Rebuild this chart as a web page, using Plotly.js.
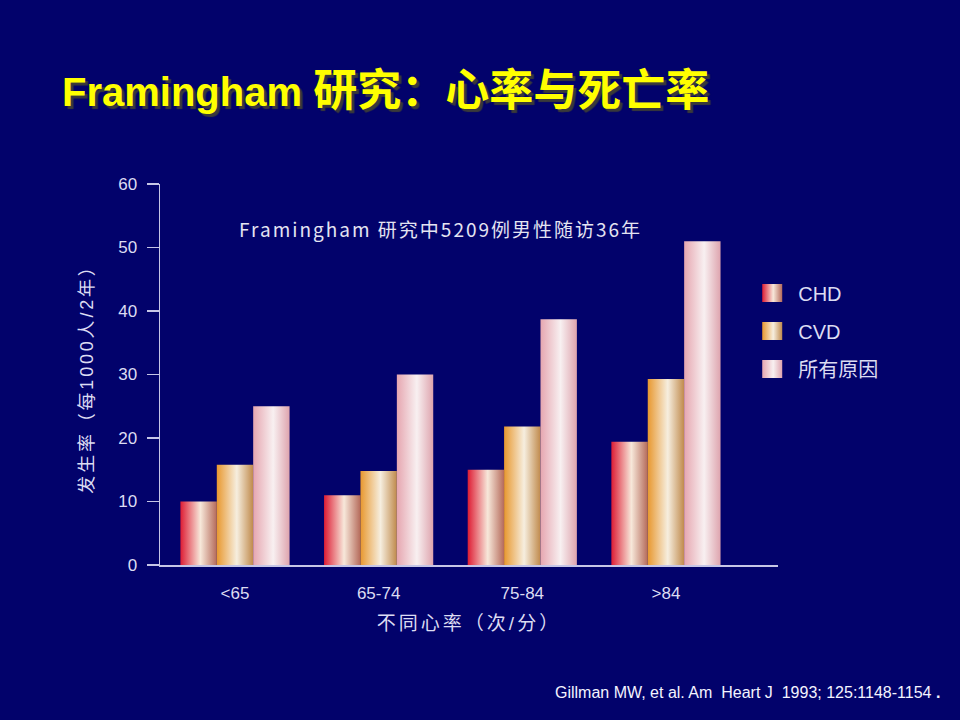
<!DOCTYPE html>
<html>
<head>
<meta charset="utf-8">
<script src="https://cdn.plot.ly/plotly-3.0.1.min.js"></script>
<style>
  html, body { margin: 0; padding: 0; background: #02026b; }
  #chart { width: 960px; height: 720px; }
</style>
</head>
<body>
<div id="chart"></div>
<script>
// heart rate groups (beats/min)
var categories = ['<65', '65-74', '75-84', '>84'];
// incidence per 1000 persons / 2 years
var chd = [10, 11, 15, 19.4];
var cvd = [15.8, 14.8, 21.8, 29.3];
var allCause = [25, 30, 38.7, 51];
var seriesNames = ['CHD', 'CVD', '所有原因'];
var yTicks = [0, 10, 20, 30, 40, 50, 60];

// gradient stops for each series: left, middle, right
var gradients = [
    ['#de1c34', '#f7e8da', '#b56a5a'],
    ['#e8982f', '#f6eedf', '#c08a4c'],
    ['#e6a6b0', '#f8f0f1', '#dea4ae']
];

var cjk = '"Liberation Sans", "Noto Sans CJK SC", sans-serif';
var axisColor = '#c6c6e6';
var textColor = '#dcdcf2';

function makeTrace(name, values, i) {
    return {
        x: categories,
        y: values,
        type: 'bar',
        name: name,
        legendgroup: 'g' + i,
        marker: { color: gradients[i][1], line: { width: 0 } },
        hoverinfo: 'y'
    };
}

var data = [
    makeTrace(seriesNames[0], chd, 0),
    makeTrace(seriesNames[1], cvd, 1),
    makeTrace(seriesNames[2], allCause, 2)
];

var layout = {
    width: 960,
    height: 720,
    paper_bgcolor: '#02026b',
    plot_bgcolor: '#02026b',
    margin: { l: 160, r: 182, t: 184, b: 155 },
    barmode: 'group',
    bargap: 0.24,
    bargroupgap: 0,
    title: {
        text: 'Framingham <span style="font-size:44px">研究：心率与死亡率</span>',
        xref: 'container',
        yref: 'container',
        x: 62 / 960,
        xanchor: 'left',
        y: 1 - 92 / 720,
        yanchor: 'middle',
        font: {
            family: '"Liberation Sans", "Noto Sans CJK SC", sans-serif',
            size: 40,
            color: '#ffff00',
            weight: 'bold',
            shadow: '3px 3px 1px #3a3a3a'
        }
    },
    xaxis: {
        type: 'category',
        range: [-0.522, 3.78],
        showline: true,
        linecolor: axisColor,
        linewidth: 2,
        ticks: '',
        showgrid: false,
        zeroline: false,
        ticklabelstandoff: 12,
        tickfont: { family: cjk, size: 17, color: textColor },
        title: {
            text: '不同心率（次/分）',
            standoff: 14,
            font: { family: cjk, size: 19, color: textColor }
        }
    },
    yaxis: {
        range: [0, 60],
        tickvals: yTicks,
        showline: true,
        linecolor: axisColor,
        linewidth: 1.5,
        ticks: 'outside',
        ticklen: 12,
        tickwidth: 1.5,
        tickcolor: axisColor,
        showgrid: false,
        zeroline: false,
        ticklabelstandoff: 6,
        tickfont: { family: cjk, size: 17, color: textColor },
        title: {
            text: '发生率（每1000人/2年）',
            standoff: 20,
            font: { family: cjk, size: 18, color: textColor }
        }
    },
    legend: {
        x: 0.968,
        xanchor: 'left',
        y: 0.765,
        yanchor: 'top',
        traceorder: 'grouped',
        tracegroupgap: 9,
        bgcolor: 'rgba(0,0,0,0)',
        font: { family: cjk, size: 20, color: textColor }
    },
    annotations: [
        {
            text: 'Framingham 研究中5209例男性随访36年',
            xref: 'paper', yref: 'paper',
            x: (440 - 160) / 618, xanchor: 'center',
            y: (565 - 228) / 381, yanchor: 'middle',
            showarrow: false,
            font: { family: '"Liberation Sans Narrow", "Noto Sans CJK SC", sans-serif', size: 19, color: '#e4e4f2' }
        },
        {
            text: 'Gillman MW, et al. Am  Heart J  1993; 125:1148-1154 <b>.</b>',
            xref: 'paper', yref: 'paper',
            x: (553 - 160) / 618, xanchor: 'left',
            y: (565 - 692) / 381, yanchor: 'middle',
            showarrow: false,
            font: { family: '"Liberation Sans", sans-serif', size: 16, color: '#f4f4ff' }
        }
    ],
    showlegend: true
};

function addGradients(gd) {
    var svg = gd.querySelector('.main-svg');
    var defs = svg.querySelector('defs');
    var ns = 'http://www.w3.org/2000/svg';
    gradients.forEach(function (stops, i) {
        var lg = document.createElementNS(ns, 'linearGradient');
        lg.setAttribute('id', 'bargrad' + i);
        lg.setAttribute('x1', '0');
        lg.setAttribute('x2', '1');
        lg.setAttribute('y1', '0');
        lg.setAttribute('y2', '0');
        [[0, stops[0]], [0.55, stops[1]], [1, stops[2]]].forEach(function (s) {
            var st = document.createElementNS(ns, 'stop');
            st.setAttribute('offset', s[0]);
            st.setAttribute('stop-color', s[1]);
            lg.appendChild(st);
        });
        defs.appendChild(lg);
    });

    var traces = gd.querySelectorAll('.barlayer .trace');
    traces.forEach(function (t, i) {
        t.querySelectorAll('path').forEach(function (p) {
            p.style.fill = 'url(#bargrad' + i + ')';
        });
    });

    // bigger legend swatches, pulled a little left of the text
    var legendItems = gd.querySelectorAll('.legend .traces');
    legendItems.forEach(function (item, i) {
        item.querySelectorAll('.legendpoints path').forEach(function (p) {
            p.setAttribute('d', 'M4,9H-16V-9H4Z');
            p.style.fill = 'url(#bargrad' + i + ')';
        });
    });

    // spaced lettering like the slide
    var ann = gd.querySelectorAll('.annotation-text');
    if (ann[0]) ann[0].style.letterSpacing = '2px';
    var yt = gd.querySelector('.ytitle');
    if (yt) yt.style.letterSpacing = '2.8px';
    var xt = gd.querySelector('.xtitle');
    if (xt) xt.style.letterSpacing = '3px';
}

Plotly.newPlot('chart', data, layout, { displayModeBar: false, staticPlot: true }).then(addGradients);
</script>
</body>
</html>
